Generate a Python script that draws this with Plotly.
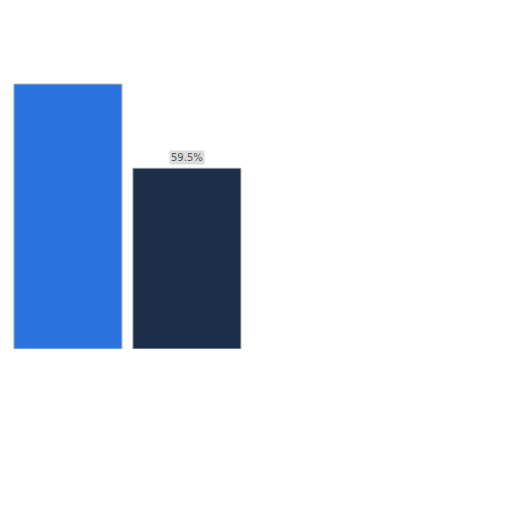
import plotly.graph_objects as go

categories = ['A', 'B']
values = [87.2, 59.5]
colors = ['#2b74de', '#1b2f49']
labels = ['', '59.5%']

fig = go.Figure()
fig.add_trace(go.Bar(
    x=categories,
    y=values,
    marker=dict(color=colors, line=dict(color='#c8c8c8', width=1)),
    width=0.91,
    hoverinfo='skip'
))

for cat, val, lab in zip(categories, values, labels):
    if lab:
        fig.add_annotation(
            x=cat, y=val, text=lab, showarrow=False,
            yanchor='bottom', yshift=3,
            font=dict(family='DejaVu Sans', size=10, color='#555555'),
            bgcolor='#dcdcdc', borderpad=1
        )

# page body adds an 8px offset, margins account for it
fig.update_layout(
    width=512, height=512,
    margin=dict(l=0, r=0, t=37, b=171),
    paper_bgcolor='white', plot_bgcolor='white',
    showlegend=False,
    xaxis=dict(range=[-0.504, 3.80], visible=False),
    yaxis=dict(range=[0, 100], visible=False),
)

fig.write_html("out.html")
